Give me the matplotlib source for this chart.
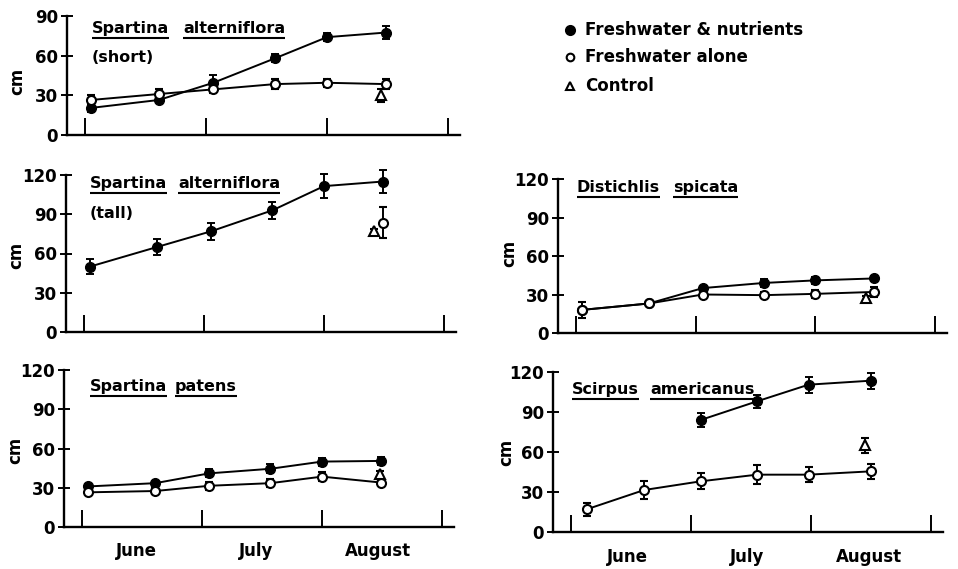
import matplotlib
matplotlib.use("Agg")
import matplotlib.pyplot as plt
from matplotlib.transforms import blended_transform_factory

# Sampling dates, in months after 1 June
dates = [0.05, 0.61, 1.06, 1.57, 2.00, 2.49]
scirpus_dates = [0.13, 0.61, 1.08, 1.55, 1.98, 2.50]
months = ["June", "July", "August"]

# Spartina alterniflora (short form)
short_nut = [20.5, 26.5, 39.5, 58.0, 74.0, 77.5]
short_nut_err = [3, 2.5, 6, 3, 3, 5]
short_fw = [26.5, 31.0, 34.5, 38.5, 39.5, 38.5]
short_fw_err = [4, 4, 3, 4, 3, 4]
short_ctrl, short_ctrl_err = 30.0, 5

# Spartina alterniflora (tall form)
tall_nut = [50.0, 65.0, 77.0, 93.0, 111.5, 115.0]
tall_nut_err = [5.5, 6, 6.5, 6.5, 9, 8.5]
tall_fw, tall_fw_err = 83.5, 12
tall_ctrl, tall_ctrl_err = 77.0, 2

# Spartina patens
pat_nut = [31.0, 33.5, 41.0, 44.5, 50.0, 50.5]
pat_nut_err = [1.5, 2, 3, 3.5, 3, 3]
pat_fw = [26.5, 27.5, 31.5, 33.5, 38.5, 34.0]
pat_fw_err = [1.5, 2, 3, 3, 3.5, 2]
pat_ctrl, pat_ctrl_err = 40.5, 2

# Distichlis spicata
dis_nut = [18.0, 23.0, 35.0, 39.0, 41.0, 42.5]
dis_nut_err = [6, 1, 1.5, 3, 2.5, 2]
dis_fw = [18.0, 23.0, 30.0, 29.5, 30.5, 32.0]
dis_fw_err = [6, 1, 2, 2.5, 3, 4]
dis_ctrl, dis_ctrl_err = 27.0, 2

# Scirpus americanus (nutrient series sampled from July on)
sci_nut = [84.0, 98.0, 110.5, 113.5]
sci_nut_err = [5.5, 5, 6, 6]
sci_fw = [17.0, 31.5, 38.0, 43.0, 43.0, 45.5]
sci_fw_err = [5, 7, 6, 7, 5.5, 5.5]
sci_ctrl, sci_ctrl_err = 65.0, 5.5

W, H = 958, 569
plt.rcParams["font.family"] = ["DejaVu Sans"]
plt.rcParams["font.weight"] = "bold"
fig = plt.figure(figsize=(W / 100, H / 100), dpi=100)

# Overlay in pixel units for labels, species names and the key
ov = fig.add_axes([0, 0, 1, 1], zorder=10)
ov.set_xlim(0, W)
ov.set_ylim(H, 0)
ov.axis("off")
ov.patch.set_alpha(0)


def px_axes(left, right, y0, ytop):
    return fig.add_axes([left / W, 1 - y0 / H, (right - left) / W, (y0 - ytop) / H])


FS = 12
FS_NAME = 11.5
LW = 1.4
common = dict(color="black", capsize=3, elinewidth=LW, capthick=LW, lw=LW, clip_on=False)
filled = dict(fmt="-o", ms=7, mfc="black", mec="black", **common)
opened = dict(fmt="-o", ms=6.5, mfc="white", mec="black", mew=1.5, **common)
tri = dict(fmt="^", ms=6.5, mfc="white", mec="black", mew=1.5, **common)


def style(ax, ymax, step, cm_x, cm_y):
    ax.set_xlim(-0.15, 3.1)
    ax.set_ylim(0, ymax)
    for s in ("top", "right"):
        ax.spines[s].set_visible(False)
    for s in ("left", "bottom"):
        ax.spines[s].set_linewidth(LW + 0.3)
    ax.set_yticks(range(0, ymax + 1, step))
    ax.set_xticks([0, 1, 2, 3])
    ax.set_xticklabels([])
    ax.tick_params(axis="y", direction="inout", length=9, width=LW, labelsize=FS, pad=2)
    ax.tick_params(axis="x", direction="in", length=12, width=LW)
    ov.text(cm_x, cm_y, "cm", rotation=90, fontsize=FS, ha="center", va="center")


def months_below(ax, xs, y_px):
    tr = blended_transform_factory(ax.transData, ov.transData)
    for m, x in zip(months, xs):
        ov.text(x, y_px, m, transform=tr, ha="center", va="center", fontsize=FS)


# Spartina alterniflora (short)
axA = px_axes(67, 460, 135, 16)
style(axA, 90, 30, 17, 81)
axA.errorbar(dates, short_nut, yerr=short_nut_err, zorder=3, **filled)
axA.errorbar(dates, short_fw, yerr=short_fw_err, zorder=4, **opened)
axA.errorbar([2.45], [short_ctrl], yerr=[short_ctrl_err], zorder=5, **tri)

# Spartina alterniflora (tall)
axB = px_axes(66, 456, 332, 175)
style(axB, 120, 30, 16, 255)
axB.errorbar(dates, tall_nut, yerr=tall_nut_err, zorder=3, **filled)
axB.errorbar([2.49], [tall_fw], yerr=[tall_fw_err], zorder=4, **opened)
axB.errorbar([2.42], [tall_ctrl], yerr=[tall_ctrl_err], zorder=5, **tri)

# Spartina patens
axC = px_axes(64, 454, 527, 370)
style(axC, 120, 30, 15, 450)
axC.errorbar(dates, pat_nut, yerr=pat_nut_err, zorder=3, **filled)
axC.errorbar(dates, pat_fw, yerr=pat_fw_err, zorder=4, **opened)
axC.errorbar([2.48], [pat_ctrl], yerr=[pat_ctrl_err], zorder=5, **tri)
months_below(axC, [0.45, 1.45, 2.47], 551)

# Distichlis spicata
axD = px_axes(558, 947, 333, 179)
style(axD, 120, 30, 509, 253)
axD.errorbar(dates, dis_nut, yerr=dis_nut_err, zorder=3, **filled)
axD.errorbar(dates, dis_fw, yerr=dis_fw_err, zorder=4, **opened)
axD.errorbar([2.42], [dis_ctrl], yerr=[dis_ctrl_err], zorder=5, **tri)

# Scirpus americanus
axE = px_axes(553, 943, 532, 372)
style(axE, 120, 30, 506, 452)
axE.errorbar(scirpus_dates[2:], sci_nut, yerr=sci_nut_err, zorder=3, **filled)
axE.errorbar(scirpus_dates, sci_fw, yerr=sci_fw_err, zorder=4, **opened)
axE.errorbar([2.45], [sci_ctrl], yerr=[sci_ctrl_err], zorder=5, **tri)
months_below(axE, [0.47, 1.47, 2.48], 557)

names = [
    ("Spartina", 92, 33), ("alterniflora", 183, 33), ("(short)", 92, 62),
    ("Spartina", 90, 188), ("alterniflora", 178, 188), ("(tall)", 90, 218),
    ("Spartina", 90, 391), ("patens", 175, 391),
    ("Distichlis", 577, 192), ("spicata", 673, 192),
    ("Scirpus", 572, 394), ("americanus", 650, 394),
]
plain = {"(short)", "(tall)"}
word_texts = []
for word, x, y in names:
    t = ov.text(x, y, word, fontsize=FS_NAME, va="baseline", ha="left")
    word_texts.append((word, t, y))

fig.canvas.draw()
renderer = fig.canvas.get_renderer()
inv = ov.transData.inverted()
for word, t, y in word_texts:
    if word in plain:
        continue
    bb = t.get_window_extent(renderer)
    (x0, _), (x1, _) = inv.transform([(bb.x0, bb.y0), (bb.x1, bb.y1)])
    ov.plot([x0, x1], [y + 5, y + 5], color="black", lw=1.5, solid_capstyle="butt")

# Key
key = [("o", "black", "Freshwater & nutrients", 30),
       ("o", "white", "Freshwater alone", 57),
       ("^", "white", "Control", 86)]
for mk, face, label, y in key:
    ov.plot([570], [y], marker=mk, ms=6.5 if face == "black" else 5.5, mfc=face,
            mec="black", mew=1.5, ls="none")
    ov.text(585, y, label, fontsize=FS, va="center", ha="left")

fig.savefig("out.png", dpi=100)
